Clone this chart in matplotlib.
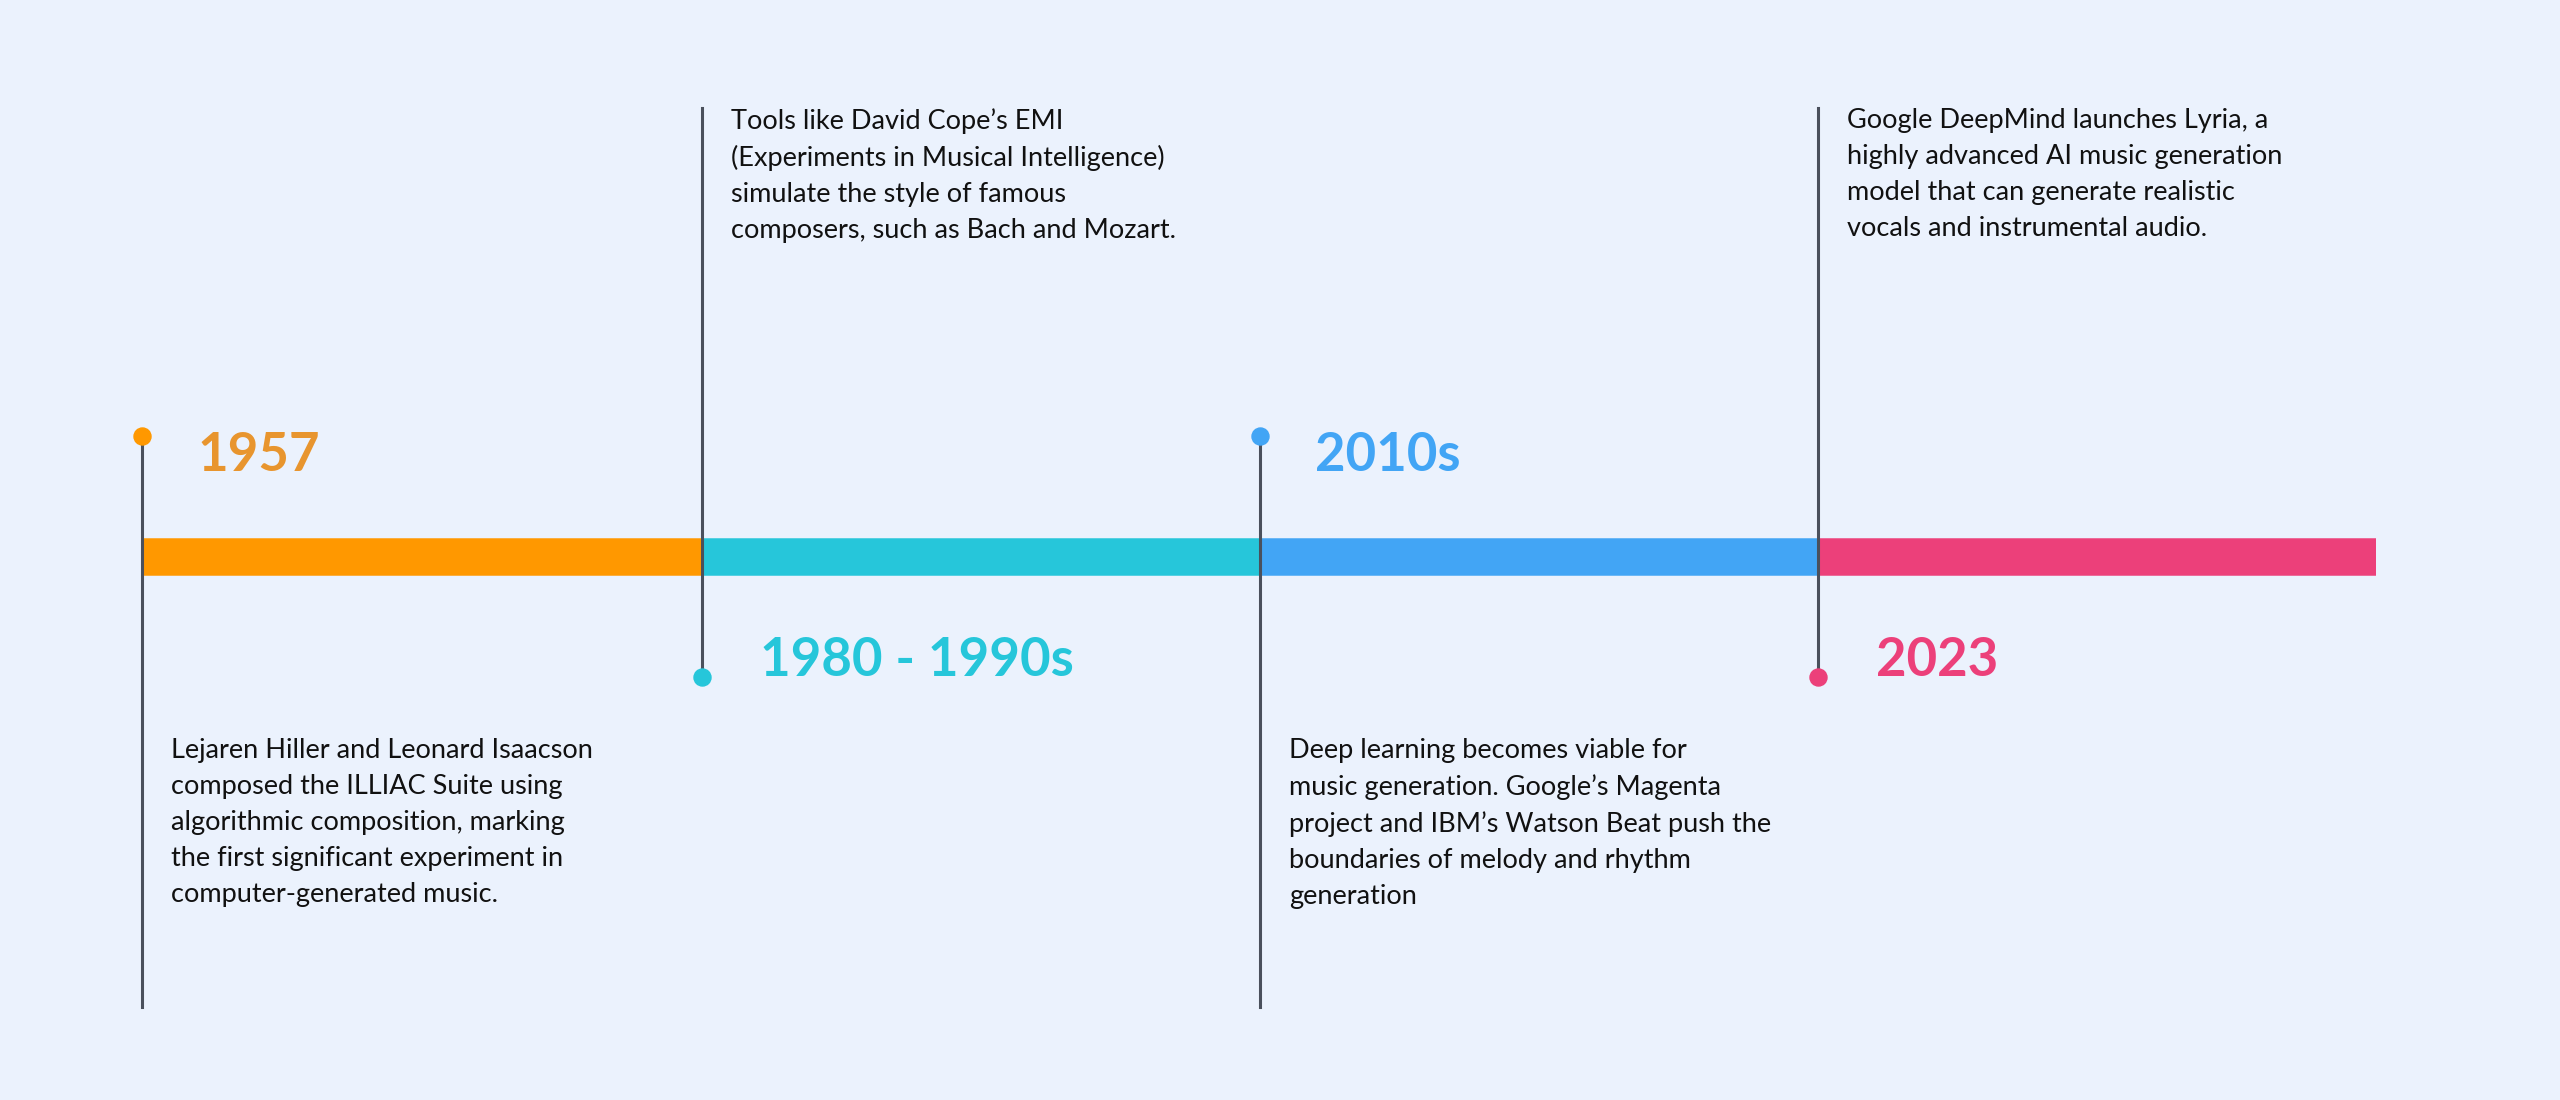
import matplotlib
matplotlib.use("Agg")
import matplotlib.pyplot as plt

years = ["1957", "1980 - 1990s", "2010s", "2023"]
descriptions = [
    "Lejaren Hiller and Leonard Isaacson\ncomposed the ILLIAC Suite using\nalgorithmic composition, marking\nthe first significant experiment in\ncomputer-generated music.",
    "Tools like David Cope\u2019s EMI\n(Experiments in Musical Intelligence)\nsimulate the style of famous\ncomposers, such as Bach and Mozart.",
    "Deep learning becomes viable for\nmusic generation. Google\u2019s Magenta\nproject and IBM\u2019s Watson Beat push the\nboundaries of melody and rhythm\ngeneration",
    "Google DeepMind launches Lyria, a\nhighly advanced AI music generation\nmodel that can generate realistic\nvocals and instrumental audio.",
]
bar_colors = ["#FF9800", "#26C6DA", "#42A5F5", "#EC407A"]
label_colors = ["#E8952E", "#26C6DA", "#42A5F5", "#EC407A"]

BG = "#EBF2FD"
LINE = "#4A505C"
fig = plt.figure(figsize=(25.6, 11), dpi=100, facecolor=BG)
ax = fig.add_axes([0, 0, 1, 1])
ax.set_facecolor(BG)
ax.set_xlim(0, 1568)
ax.set_ylim(674, 0)
ax.axis("off")

x0, seg = 88, 341.75
bar_y = 341
for i, (yr, desc, bc, lc) in enumerate(zip(years, descriptions, bar_colors, label_colors)):
    xs = x0 + i * seg
    ax.plot([xs, xs + seg], [bar_y, bar_y], color=bc, lw=27, solid_capstyle="butt", zorder=2)
    xl = xs - 1 if i == 0 else xs
    if i % 2 == 0:
        ax.plot([xl, xl], [267, 617], color=LINE, lw=2.2, zorder=3)
        ax.scatter([xl], [267], s=150, color=bc, zorder=4)
        ax.text(xl + 34, 279, yr, color=lc, fontsize=38, fontweight="bold",
                fontfamily="Lato", va="center", ha="left")
        ax.text(xl + 18, 452, desc, color="#111111", fontsize=19.5, fontfamily="Lato",
                va="top", ha="left", linespacing=1.55)
    else:
        ax.plot([xl, xl], [66, 415], color=LINE, lw=2.2, zorder=3)
        ax.scatter([xl], [415], s=150, color=bc, zorder=4)
        ax.text(xl + 36, 405, yr, color=lc, fontsize=38, fontweight="bold",
                fontfamily="Lato", va="center", ha="left")
        ax.text(xl + 18, 66, desc, color="#111111", fontsize=19.5, fontfamily="Lato",
                va="top", ha="left", linespacing=1.55)

fig.savefig("out.png", dpi=100, facecolor=BG)
